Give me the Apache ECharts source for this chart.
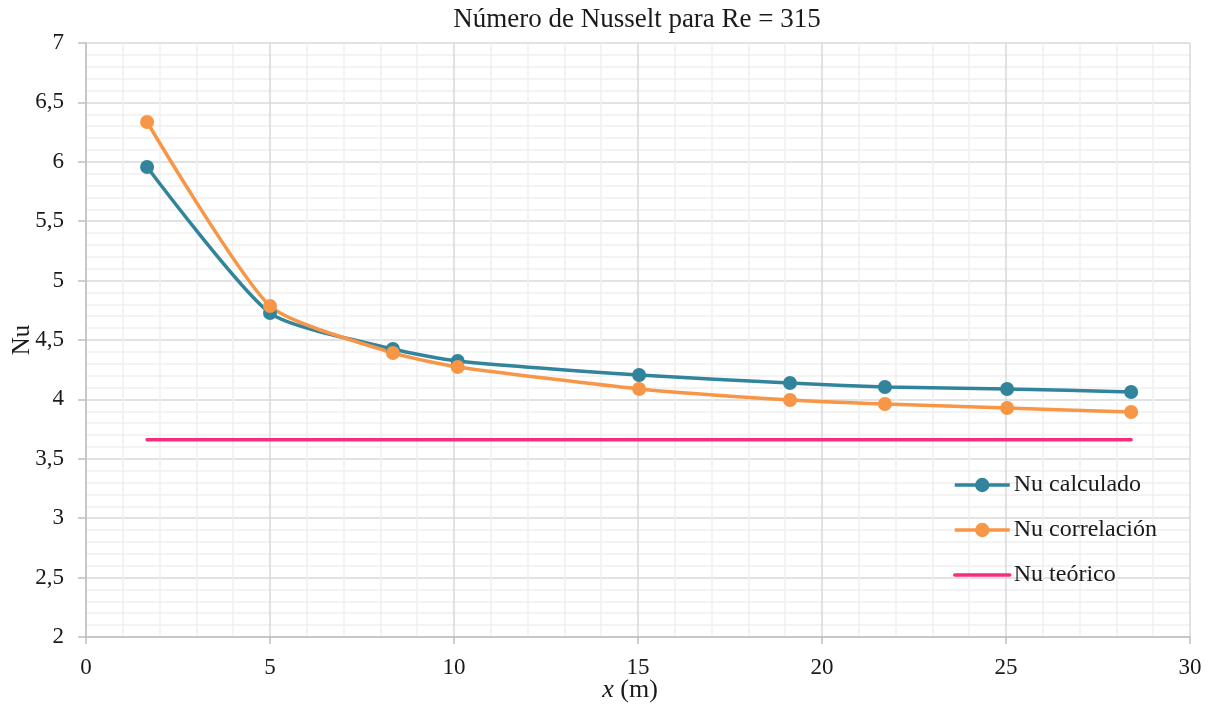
<!DOCTYPE html>
<html><head><meta charset="utf-8">
<script src="https://cdn.jsdelivr.net/npm/echarts@6/dist/echarts.min.js"></script>
<style>html,body{margin:0;padding:0;background:#fff}#c{width:1216px;height:706px}</style>
</head><body><div id="c"></div>
<script>
const xPos = [1.66, 5.0, 8.34, 10.1, 15.03, 19.13, 21.71, 25.03, 28.4];
const nuCalculado = [5.956, 4.727, 4.424, 4.323, 4.205, 4.138, 4.104, 4.088, 4.062];
const nuCorrelacion = [6.335, 4.786, 4.391, 4.273, 4.088, 3.995, 3.961, 3.928, 3.894];
const nuTeorico = 3.66;
const seriesNames = ['Nu calculado', 'Nu correlación', 'Nu teórico'];

const font = 'Liberation Serif, Times New Roman, serif';
const txt = '#1a1a1a';
const fmt = v => String(v).replace('.', ',');
const chart = echarts.init(document.getElementById('c'));
chart.setOption({
  animation: false,
  textStyle: {fontFamily: font},
  title: {text: 'Número de Nusselt para Re = 315', left: 632, top: 1, textAlign: 'center',
    textStyle: {fontFamily: font, fontSize: 27, fontWeight: 'normal', color: txt}},
  grid: {left: 86, right: 26, top: 43, bottom: 69, outerBoundsMode: 'none', containLabel: false},
  legend: {orient: 'vertical', left: 948, top: 468, itemGap: 21, itemWidth: 55, itemHeight: 18,
    lineStyle: {width: 3.5},
    data: [
      {name: seriesNames[0]},
      {name: seriesNames[1]},
      {name: seriesNames[2], itemStyle: {opacity: 0}}
    ],
    textStyle: {fontFamily: font, fontSize: 24, color: txt, padding: [0,0,0,-1]}},
  xAxis: {type: 'value', min: 0, max: 30, interval: 5,
    name: '{i|x} (m)', nameLocation: 'middle', nameGap: 40, nameMoveOverlap: false,
    nameTextStyle: {fontFamily: font, fontSize: 26, color: txt, padding: [0, 16, 0, 0],
      rich: {i: {fontFamily: font, fontSize: 26, fontStyle: 'italic', color: txt}}},
    axisLine: {show: true, lineStyle: {color: '#BFBFBF', width: 1.5}},
    axisTick: {show: true, length: 7, lineStyle: {color: '#BFBFBF', width: 1.5}},
    axisLabel: {fontFamily: font, fontSize: 23, color: txt, margin: 19, formatter: fmt},
    splitLine: {show: true, lineStyle: {color: '#D9D9D9', width: 1.5}},
    minorTick: {show: false, splitNumber: 5},
    minorSplitLine: {show: true, lineStyle: {color: '#F0F0F0', width: 1.5}}},
  yAxis: {type: 'value', min: 2, max: 7, interval: 0.5,
    name: 'Nu', nameLocation: 'middle', nameGap: 51, nameRotate: 90, nameMoveOverlap: false,
    nameTextStyle: {fontFamily: font, fontSize: 25, color: txt},
    axisLine: {show: true, lineStyle: {color: '#BFBFBF', width: 1.5}},
    axisTick: {show: true, length: 8, lineStyle: {color: '#BFBFBF', width: 1.5}},
    axisLabel: {fontFamily: font, fontSize: 23, color: txt, margin: 22, formatter: fmt},
    splitLine: {show: true, lineStyle: {color: '#D9D9D9', width: 1.5}},
    minorTick: {show: false, splitNumber: 5},
    minorSplitLine: {show: true, lineStyle: {color: '#F0F0F0', width: 1.5}}},
  series: [
    {name: seriesNames[0], type: 'line', smooth: 0.2, symbol: 'circle', symbolSize: 14,
      data: xPos.map((x, i) => [x, nuCalculado[i]]),
      itemStyle: {color: '#31849B'}, lineStyle: {color: '#31849B', width: 3.5}},
    {name: seriesNames[1], type: 'line', smooth: 0.2, symbol: 'circle', symbolSize: 14,
      data: xPos.map((x, i) => [x, nuCorrelacion[i]]),
      itemStyle: {color: '#F79646'}, lineStyle: {color: '#F79646', width: 3.5}},
    {name: seriesNames[2], type: 'line', symbol: 'none',
      data: [[xPos[0], nuTeorico], [xPos[xPos.length - 1], nuTeorico]],
      itemStyle: {color: '#F62C7E'}, lineStyle: {color: '#F62C7E', width: 3.5, cap: 'round'}}
  ]
});
</script></body></html>
